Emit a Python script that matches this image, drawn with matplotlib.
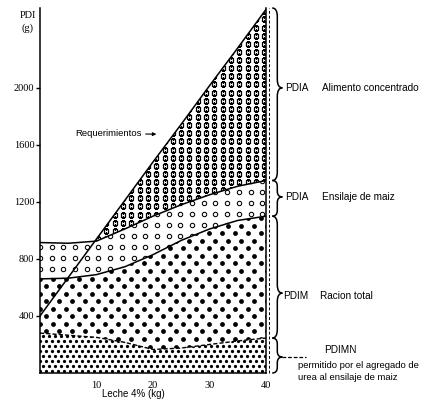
import numpy as np
import matplotlib
matplotlib.use("Agg")
import matplotlib.pyplot as plt
from matplotlib.path import Path
from matplotlib.patches import PathPatch

# Leche 4% (kg)
leche = [0, 5, 10, 15, 20, 25, 30, 35, 40]
# PDI (g)
requerimientos = [400, 670, 940, 1210, 1480, 1745, 2015, 2280, 2550]
ensilaje_sup = [915, 910, 925, 1010, 1100, 1180, 1250, 1310, 1350]
racion_total = [660, 665, 690, 745, 830, 930, 1010, 1070, 1100]
pdimn = [280, 265, 250, 215, 165, 175, 200, 225, 245]

yticks = [400, 800, 1200, 1600, 2000]
xticks = [10, 20, 30, 40]

SANS = ['Liberation Sans', 'DejaVu Sans']
SERIF = ['Liberation Serif', 'DejaVu Serif']


def texture(ax, poly, dx, dy, stagger, **kw):
    xs = np.arange(-dx, 41 + dx, dx)
    ys = np.arange(dy / 2, 2600, dy)
    X, Y = [], []
    for i, y in enumerate(ys):
        off = dx / 2 if (stagger and i % 2) else 0
        X.extend(xs + off)
        Y.extend([y] * len(xs))
    sc = ax.scatter(X, Y, zorder=2, **kw)
    for p in poly.get_paths()[:1]:
        sc.set_clip_path(p, ax.transData)


def brace(ax, x, y0, y1, ym, w, r):
    verts = [(x, y1),
             (x + w / 2, y1), (x + w / 2, y1 - r),
             (x + w / 2, ym + r),
             (x + w / 2, ym), (x + w, ym),
             (x + w / 2, ym), (x + w / 2, ym - r),
             (x + w / 2, y0 + r),
             (x + w / 2, y0), (x, y0)]
    codes = [Path.MOVETO,
             Path.CURVE3, Path.CURVE3,
             Path.LINETO,
             Path.CURVE3, Path.CURVE3,
             Path.CURVE3, Path.CURVE3,
             Path.LINETO,
             Path.CURVE3, Path.CURVE3]
    ax.add_patch(PathPatch(Path(verts, codes), fc='none', ec='black',
                           lw=1.1, clip_on=False))


fig = plt.figure(figsize=(4.42, 4.09), dpi=100)
ax = fig.add_axes([40 / 442, 36 / 409, 226 / 442, 365 / 409])

x = np.array(leche)
req = np.array(requerimientos)
sup = np.array(ensilaje_sup)
low = np.array(racion_total)
bot = np.array(pdimn)

p_conc = ax.fill_between(x, sup, req, where=req >= sup, interpolate=True,
                         fc='white', lw=0, zorder=1)
p_ens = ax.fill_between(x, low, sup, fc='white', lw=0, zorder=1)
p_rac = ax.fill_between(x, bot, low, fc='white', lw=0, zorder=1)
p_bot = ax.fill_between(x, 0, bot, fc='white', lw=0, zorder=1)

texture(ax, p_conc, 1.47, 57, False, marker='s', s=11, facecolors='white',
        edgecolors='black', linewidths=0.9)
texture(ax, p_ens, 2.07, 77, False, marker='o', s=10, facecolors='white',
        edgecolors='black', linewidths=0.75)
texture(ax, p_rac, 2.3, 53, True, marker='o', s=12, color='black',
        linewidths=0)
texture(ax, p_bot, 1.06, 35, True, marker='o', s=5.5, color='black',
        linewidths=0)

ax.plot(x, req, color='black', lw=1.1, zorder=3)
ax.plot(x, sup, color='black', lw=1.1, zorder=3)
ax.plot(x, low, color='black', lw=1.1, zorder=3)
ax.plot(x, bot, color='black', lw=1.0, ls=(0, (3, 1.5)), zorder=3)

ax.set_xlim(0, 40)
ax.set_ylim(0, 2560)
ax.spines['top'].set_visible(False)
for s in ['left', 'right', 'bottom']:
    ax.spines[s].set_linewidth(1.1)

ax.set_yticks(yticks)
ax.set_yticklabels([str(v) for v in yticks], fontfamily=SERIF, fontsize=7.5)
ax.set_xticks(xticks)
ax.set_xticklabels([str(v) for v in xticks], fontfamily=SERIF, fontsize=7.5)
ax.tick_params(axis='y', direction='out', length=3, width=1, pad=1)
ax.tick_params(axis='x', length=0, pad=6)

# dashed line next to the right edge
ax.plot([40.6, 40.6], [0, 2560], color='black', lw=0.7, ls=(0, (3, 2)),
        clip_on=False, zorder=3)

# braces on the right
brace(ax, 41.1, 1350, 2560, 2000, 1.8, 60)
brace(ax, 41.1, 1100, 1350, 1235, 1.8, 40)
brace(ax, 41.1, 245, 1100, 560, 1.8, 60)
brace(ax, 41.1, 0, 245, 112, 1.8, 40)
ax.plot([42.9, 47.0], [112, 112], color='black', lw=0.9, ls=(0, (3, 1.5)),
        clip_on=False)

fs = 7.2
ax.text(43.4, 2000, 'PDIA', fontfamily=SANS, fontsize=fs, va='center')
ax.text(49.9, 2000, 'Alimento concentrado', fontfamily=SANS, fontsize=fs,
        va='center')
ax.text(43.4, 1235, 'PDIA', fontfamily=SANS, fontsize=fs, va='center')
ax.text(49.9, 1235, 'Ensilaje de maiz', fontfamily=SANS, fontsize=fs,
        va='center')
ax.text(43.1, 540, 'PDIM', fontfamily=SANS, fontsize=fs, va='center')
ax.text(49.5, 540, 'Racion total', fontfamily=SANS, fontsize=fs,
        va='center')
ax.text(53.2, 160, 'PDIMN', fontfamily=SANS, fontsize=fs, va='center',
        ha='center')
ax.text(45.6, 55, 'permitido por el agregado de', fontfamily=SANS,
        fontsize=6.8, va='center')
ax.text(45.6, -35, 'urea al ensilaje de maiz', fontfamily=SANS,
        fontsize=6.8, va='center')

ax.annotate('Requerimientos', xy=(20.6, 1675), xytext=(6.2, 1680),
            fontfamily=SANS, fontsize=6.8, va='center',
            arrowprops=dict(arrowstyle='-|>', lw=0.8, color='black',
                            mutation_scale=5, shrinkA=1, shrinkB=0))

ax.text(16.5, -150, 'Leche 4% (kg)', fontfamily=SANS, fontsize=7,
        ha='center', va='center')
fig.text(28 / 442, 1 - 15 / 409, 'PDI', fontfamily=SERIF, fontsize=7.5,
         ha='center', va='center')
fig.text(28 / 442, 1 - 28 / 409, '(g)', fontfamily=SERIF, fontsize=7.5,
         ha='center', va='center')

fig.savefig('out.png', dpi=100)
